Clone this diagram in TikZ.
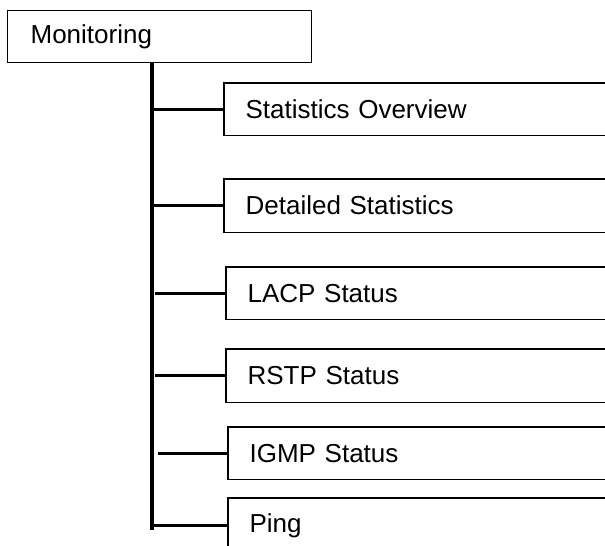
\documentclass[tikz,border=0pt]{standalone}
\usepackage{fontspec}
\setmainfont{Liberation Sans}
\begin{document}
\begin{tikzpicture}[x=1pt,y=-1pt,
  box/.style={draw=black,line width=1.2pt,fill=white,anchor=north west,
    inner xsep=0pt,inner ysep=0pt,align=left,
    font=\fontsize{26}{30}\selectfont},
  sub/.style={box,draw=none,minimum width=384pt,text width=384pt},
  boxline/.style={line width=1.2pt,line cap=rect},
  trunkline/.style={line width=3.6pt},
  branchline/.style={line width=3pt}]
\useasboundingbox (0,0) rectangle (605,546);
\fill[white] (0,0) rectangle (605,546);
% boxes
\node[box,minimum width=304pt,minimum height=52pt,text width=304pt] (main) at (7,10) {\hspace*{23pt}Monitoring};
\node[sub,minimum height=51pt] (n1) at (224,83) {\hspace*{21pt}Statistics Overview};
\node[sub,minimum height=52pt] (n2) at (224,179) {\hspace*{21pt}Detailed Statistics};
\node[sub,minimum height=51pt] (n3) at (226,267) {\hspace*{21pt}LACP Status};
\node[sub,minimum height=52pt] (n4) at (226,349) {\hspace*{21pt}RSTP Status};
\node[sub,minimum height=51pt] (n5) at (228,427) {\hspace*{21pt}IGMP Status};
\node[sub,minimum height=54pt] (n6) at (228,498) {\hspace*{21pt}Ping};
\foreach \n in {n1,n2,n3,n4,n5,n6}
  \draw[boxline] (\n.north east) -- (\n.north west) -- (\n.south west) -- (\n.south east);
% trunk
\coordinate (ttop) at (152,62);
\coordinate (tbot) at (152,530);
\draw[trunkline] (ttop) -- (tbot);
% branches
\draw[branchline] (n1.west -| ttop) -- (n1.west);
\draw[branchline] (n2.west -| ttop) -- (n2.west);
\draw[branchline] ([xshift=3pt]n3.west -| ttop) -- (n3.west);
\draw[branchline] ([xshift=3pt]n4.west -| ttop) -- (n4.west);
\draw[branchline] ([xshift=6pt]n5.west -| ttop) -- (n5.west);
\draw[branchline] ([xshift=2pt]n6.west -| ttop) -- (n6.west);
\end{tikzpicture}
\end{document}
